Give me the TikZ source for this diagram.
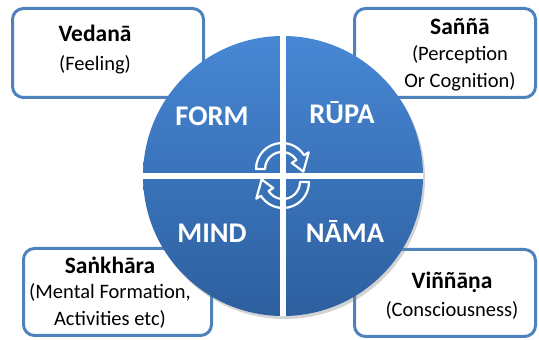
\documentclass[tikz,border=0pt]{standalone}
\usepackage{fontspec}
\setmainfont{Carlito}
\usetikzlibrary{shadows}
\pgfdeclarelayer{boxlayer}
\pgfsetlayers{boxlayer,main}
\definecolor{boxblue}{HTML}{4F81BD}
\definecolor{wheeltop}{HTML}{4787D4}
\definecolor{wheelbottom}{HTML}{2D5F9F}
\tikzstyle{skandha_box}=[draw=boxblue,line width=3pt,rounded corners=11pt,fill=white,inner sep=0pt]
\tikzstyle{title_text}=[font=\fontsize{23.5}{26}\selectfont\bfseries,inner sep=0pt]
\tikzstyle{note_text}=[font=\fontsize{20.5}{27}\selectfont,align=center,inner sep=0pt]
\tikzstyle{quadrant}=[text=white,font=\fontsize{28.5}{30}\selectfont\bfseries,inner sep=0pt]
\tikzstyle{cross}=[-,draw=white,line width=6pt]
\tikzstyle{turn}=[draw=white,line width=2.2pt,line join=round]

\begin{document}
\begin{tikzpicture}[x=1pt,y=1pt]
	\useasboundingbox (0,0) rectangle (539,340);
	\begin{pgfonlayer}{boxlayer}
		\node [style={skandha_box}, minimum width=191pt, minimum height=89pt] (vedanabox) at (108, 287) {};
		\node [style={skandha_box}, minimum width=181pt, minimum height=89pt] (sannabox) at (445, 287) {};
		\node [style={skandha_box}, minimum width=188pt, minimum height=87pt] (sankharabox) at (117.5, 48) {};
		\node [style={skandha_box}, minimum width=181pt, minimum height=87pt] (vinnanabox) at (445, 47) {};
	\end{pgfonlayer}
	% box texts
	\node [style={title_text}] (vedana) at (95, 307) {Vedanā};
	\node [style={note_text}] (feeling) at (95, 275) {(Feeling)};
	\node [style={title_text}] (sanna) at (460, 313) {Saññā};
	\node [style={note_text}] (perception) at (460, 271.5) {(Perception\\Or Cognition)};
	\node [style={title_text}] (sankhara) at (110, 75) {Saṅkhāra};
	\node [style={note_text}] (formation) at (110, 34) {(Mental Formation,\\Activities etc)};
	\node [style={title_text}] (vinnana) at (452, 58) {Viññāṇa};
	\node [style={note_text}] (consciousness) at (452, 30) {(Consciousness)};
	% wheel
	\node [circle, minimum size=280pt, inner sep=0pt, top color=wheeltop, bottom color=wheelbottom,
		drop shadow={opacity=0.35, shadow xshift=2pt, shadow yshift=-3pt}] (wheel) at (283, 164) {};
	\draw [style=cross] (wheel.north) to (wheel.south);
	\draw [style=cross] (wheel.west) to (wheel.east);
	\node [style=quadrant] (form) at (212, 224) {FORM};
	\node [style=quadrant] (rupa) at (342, 227) {RŪPA};
	\node [style=quadrant] (mind) at (212, 107) {MIND};
	\node [style=quadrant] (nama) at (345, 108) {NĀMA};
	% turning arrows
	\coordinate (topturn) at (282, 171);
	\coordinate (bottomturn) at (283, 158);
	\draw [style=turn, shift={(topturn)}] (180:26) arc [start angle=180, end angle=32, radius=26]
		-- (32:31.5) -- (-7:21.5) -- (32:11.5) -- (32:17) arc [start angle=32, end angle=180, radius=17] -- cycle;
	\draw [style=turn, shift={(bottomturn)}, rotate=180] (180:26) arc [start angle=180, end angle=32, radius=26]
		-- (32:31.5) -- (-7:21.5) -- (32:11.5) -- (32:17) arc [start angle=32, end angle=180, radius=17] -- cycle;
\end{tikzpicture}
\end{document}
